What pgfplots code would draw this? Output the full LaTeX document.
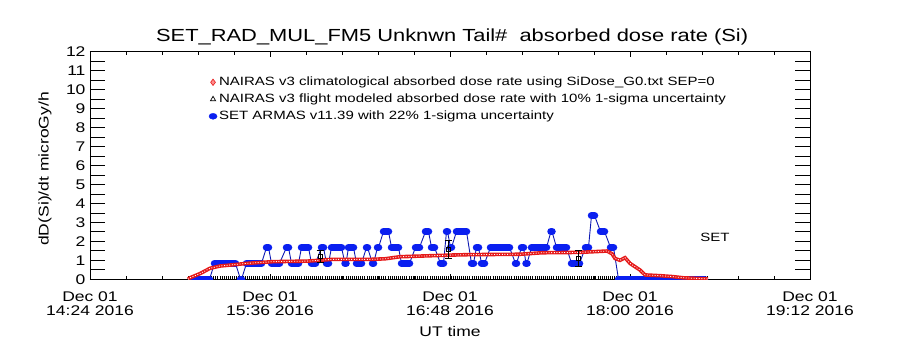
\documentclass[border=0pt]{standalone}
\usepackage{pgfplots}
\pgfplotsset{compat=1.18}
\usepackage{pgfplotstable}
\usepackage{fontspec}
\setmainfont{Liberation Sans}[FakeStretch=1.25]
\definecolor{armas}{rgb}{0.04,0.12,0.94}
\definecolor{armasline}{rgb}{0.05,0.10,0.70}
\definecolor{nairas}{rgb}{0.90,0.10,0.10}

\pgfplotstableread{
x y
903.2 0
904.0 0.08
908.0 0.30
912.0 0.58
916.0 0.70
920.0 0.75
926.8 0.84
937.2 0.93
951.2 0.96
960.8 1.05
976.0 1.05
982.0 1.08
988.0 1.19
1009.2 1.28
1016.0 1.30
1036.0 1.32
1044.8 1.40
1060.0 1.42
1070.8 1.49
1072.8 1.35
1074.0 1.10
1076.0 1.00
1078.0 1.14
1080.0 0.84
1084.0 0.49
1086.0 0.23
1092.0 0.19
1097.2 0.14
1101.2 0.08
1111.2 0.02
}\climtab

\pgfplotstableread{
x y
905.4 0
911.8 0
nan nan
913.8 0.84
922.2 0.84
nan nan
924.2 0
924.6 0
nan nan
926.6 0.84
932.6 0.84
nan nan
934.6 1.68
935.4 1.68
nan nan
936.6 0.84
939.8 0.84
nan nan
942.6 1.68
943.4 1.68
nan nan
944.6 0.84
947.4 0.84
nan nan
948.6 1.68
951.4 1.68
nan nan
952.6 0.84
954.2 0.84
nan nan
956.6 1.68
957.4 1.68
nan nan
958.6 0.84
959.4 0.84
nan nan
960.6 1.68
964.6 1.68
nan nan
966.0 0.84
966.4 0.84
nan nan
967.4 1.68
969.4 1.68
nan nan
970.6 0.84
972.6 0.84
nan nan
974.6 1.68
975.0 1.68
nan nan
977.0 0.84
977.4 0.84
nan nan
979.0 1.68
979.4 1.68
nan nan
981.4 2.52
983.4 2.52
nan nan
984.6 1.68
987.4 1.68
nan nan
988.6 0.84
991.8 0.84
nan nan
994.2 1.68
995.8 1.68
nan nan
998.2 2.52
999.4 2.52
nan nan
1000.6 1.68
1001.8 1.68
nan nan
1004.2 0.84
1005.4 0.84
nan nan
1006.6 2.52
1007.0 2.52
nan nan
1008.2 1.68
1008.6 1.68
nan nan
1010.6 2.52
1014.6 2.52
nan nan
1016.6 0.84
1017.4 0.84
nan nan
1018.6 1.68
1019.4 1.68
nan nan
1020.6 0.84
1021.8 0.84
nan nan
1024.2 1.68
1031.8 1.68
nan nan
1034.2 0.84
1034.6 0.84
nan nan
1036.6 1.68
1037.4 1.68
nan nan
1038.4 0.84
1038.8 0.84
nan nan
1040.6 1.68
1046.6 1.68
nan nan
1048.4 2.52
1048.8 2.52
nan nan
1050.6 1.68
1054.6 1.68
nan nan
1056.6 0.84
1059.8 0.84
nan nan
1062.2 1.68
1063.4 1.68
nan nan
1064.6 3.36
1065.8 3.36
nan nan
1068.2 2.52
1069.8 2.52
nan nan
1072.2 1.68
1073.4 1.68
nan nan
1075.4 0
1109.8 0
}\armastab

\begin{document}
\begin{tikzpicture}
\begin{axis}[
  at={(0pt,0pt)}, anchor=south west,
  scale only axis, width=720pt, height=227.6pt,
  xmin=864, xmax=1152, ymin=0, ymax=12,
  xtick={864,936,1008,1080,1152},
  xticklabels={{Dec 01\\14:24 2016},{Dec 01\\15:36 2016},{Dec 01\\16:48 2016},{Dec 01\\18:00 2016},{Dec 01\\19:12 2016}},
  minor x tick num=4,
  ytick={0,1,...,12},
  minor ytick={0.5,1.5,...,11.5},
  tick align=inside,
  xtick pos=both, ytick pos=both,
  xtick style={/pgfplots/major tick length=5pt, /pgfplots/minor tick length=3pt},
  ytick style={/pgfplots/major tick length=15pt, /pgfplots/minor tick length=15pt},
  every tick/.style={black, line width=0.8pt},
  axis line style={black, line width=0.9pt},
  /pgf/number format/assume math mode=true,
  ticklabel style={font=\fontsize{14}{13.5}\selectfont},
  xticklabel style={align=center, yshift=-9pt},
  yticklabel style={xshift=-1pt},
  xlabel={UT time},
  ylabel={dD(Si)/dt microGy/h},
  label style={font=\fontsize{14}{16}\selectfont},
  xlabel style={at={(axis description cs:0.5,-0.2315)}, anchor=center},
  ylabel style={at={(axis description cs:-0.0625,0.485)}, anchor=center},
  title={SET\_RAD\_MUL\_FM5 Unknwn Tail\#~~absorbed dose rate (Si)},
  title style={at={(axis description cs:0.503,1.037)}, anchor=center, font=\fontsize{17.5}{20}\selectfont},
  legend style={draw=none, fill=none, at={(axis description cs:0.165,0.895)}, anchor=north west,
    font=\fontsize{12}{13}\selectfont, inner sep=0pt, row sep=4pt, /tikz/column sep=1pt,
    nodes={inner sep=1pt, text height=8.5pt, text depth=2.5pt}},
  legend cell align=left,
  legend image code/.code={\draw[#1] plot coordinates {(3pt,0pt)};},
]
\addlegendimage{only marks, mark=diamond*, mark size=3.2pt, mark options={fill=red!45, draw=nairas, line width=0.6pt}}
\addlegendentry{NAIRAS v3 climatological absorbed dose rate using SiDose\_G0.txt SEP=0}
\addlegendimage{only marks, mark=triangle, mark size=3pt, mark options={black, line width=0.7pt}}
\addlegendentry{NAIRAS v3 flight modeled absorbed dose rate with 10\% 1-sigma uncertainty}
\addlegendimage{only marks, mark=*, mark size=3pt, mark options={fill=armas, draw=armas, xscale=1.35}}
\addlegendentry{SET ARMAS v11.39 with 22\% 1-sigma uncertainty}

% NAIRAS flight modeled (zero) along baseline
\addplot[black, line width=6pt, dash pattern=on 0.7pt off 1.4pt, forget plot] coordinates {(903.2,0) (1111.2,0)};
% SET ARMAS thin connector
\addplot[armasline, line width=0.9pt, forget plot] table {\armastab};
% SET ARMAS thick marker bars
\addplot[armas, line width=7.5pt, line cap=round, unbounded coords=jump, forget plot] table {\armastab};
% NAIRAS climatological
\addplot[nairas, line width=3.6pt, forget plot] table {\climtab};
\addplot[white, line width=0.8pt, dash pattern=on 1pt off 1.6pt, forget plot] table {\climtab};
% error bars
\addplot[black, only marks, mark=square, mark size=2.2pt, forget plot,
  error bars/.cd, y dir=both, y explicit, error bar style={line width=1pt},
  error mark options={rotate=90, mark size=3.5pt, line width=1pt}]
  coordinates {(956.0,1.22) +- (0,0.32) (1007.2,1.58) +- (0,0.48) (1059.2,1.10) +- (0,0.44)};
\node[font=\fontsize{12}{14}\selectfont] at (axis description cs:0.868,0.185) {SET};
\end{axis}
\pgfresetboundingbox
\useasboundingbox (-90pt,-70.7pt) rectangle (810pt,279.3pt);
\end{tikzpicture}
\end{document}
